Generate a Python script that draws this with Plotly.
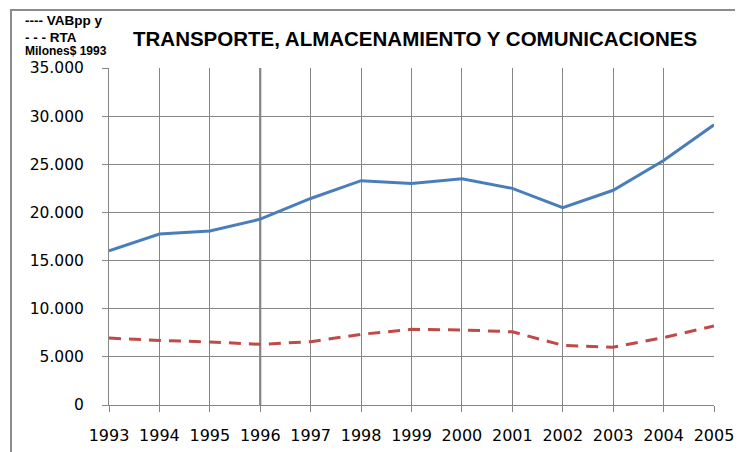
import plotly.graph_objects as go

years = [1993, 1994, 1995, 1996, 1997, 1998, 1999, 2000, 2001, 2002, 2003, 2004, 2005]
vabpp = [16000, 17750, 18070, 19300, 21450, 23300, 23000, 23500, 22500, 20500, 22300, 25400, 29100]
rta = [6950, 6700, 6550, 6300, 6570, 7340, 7860, 7800, 7600, 6200, 6000, 7000, 8200]
y_ticks = [0, 5000, 10000, 15000, 20000, 25000, 30000, 35000]
y_labels = ["0", "5.000", "10.000", "15.000", "20.000", "25.000", "30.000", "35.000"]
title_text = "TRANSPORTE, ALMACENAMIENTO Y COMUNICACIONES"
legend_lines = ["---- VABpp y", "- - - RTA", "Milones$ 1993"]

grid = "#868686"
OFF = 8  # browser default body margin

fig = go.Figure()
fig.add_trace(go.Scatter(x=years, y=vabpp, mode="lines", name="VABpp",
                         line=dict(color="#4A7EBB", width=3)))
fig.add_trace(go.Scatter(x=years, y=rta, mode="lines", name="RTA",
                         line=dict(color="#BE4B48", width=3, dash="12px,8px")))

fig.update_layout(
    width=743 - OFF, height=452 - OFF,
    margin=dict(l=109 - OFF, r=29, t=68 - OFF, b=47),
    paper_bgcolor="white", plot_bgcolor="white",
    showlegend=False,
    font=dict(family="DejaVu Sans", color="#000000"),
    xaxis=dict(range=[1993, 2005], tickvals=years, ticktext=[str(y) for y in years],
               showgrid=True, gridcolor=grid, gridwidth=1,
               ticks="outside", ticklen=6, tickcolor=grid,
               showline=True, linecolor=grid, linewidth=1,
               tickfont=dict(family="DejaVu Sans", size=16, color="#000"),
               ticklabelstandoff=10, automargin=False,
               zeroline=False, fixedrange=True),
    yaxis=dict(range=[0, 35000], tickvals=y_ticks, ticktext=y_labels,
               showgrid=True, gridcolor=grid, gridwidth=1,
               ticks="outside", ticklen=6, tickcolor=grid,
               showline=True, linecolor=grid, linewidth=1,
               tickfont=dict(family="DejaVu Sans", size=15.5, color="#000"),
               ticklabelstandoff=15, automargin=False,
               zeroline=False, fixedrange=True),
)

# darker 1996 gridline
fig.add_shape(type="line", xref="x", yref="y", x0=1996, x1=1996, y0=0, y1=35000,
              line=dict(color="#6a6a6a", width=2), layer="below")

# outer frame
fig.add_shape(type="rect", xref="paper", yref="paper",
              x0=(11 - 109) / 605, x1=(760 - 109) / 605,
              y0=(405 - 470) / 337, y1=(405 - 10) / 337,
              line=dict(color="#8c8c8c", width=2), fillcolor="rgba(0,0,0,0)")

fig.add_annotation(text="<b>" + title_text + "</b>", xref="paper", yref="paper",
                   x=(415 - 109) / 605, y=(405 - 38) / 337, xanchor="center", yanchor="middle",
                   showarrow=False, font=dict(family="Liberation Sans", size=20.5, color="#000"))

for i, t in enumerate(legend_lines):
    py = [21, 37, 51][i]
    fig.add_annotation(text="<b>" + t + "</b>", xref="paper", yref="paper",
                       x=(24 - 109) / 605, y=(405 - py) / 337, xanchor="left", yanchor="middle",
                       showarrow=False, borderpad=0,
                       font=dict(family="Liberation Sans", size=13.5 if i < 2 else 12, color="#000"))

fig.write_html("out.html")
